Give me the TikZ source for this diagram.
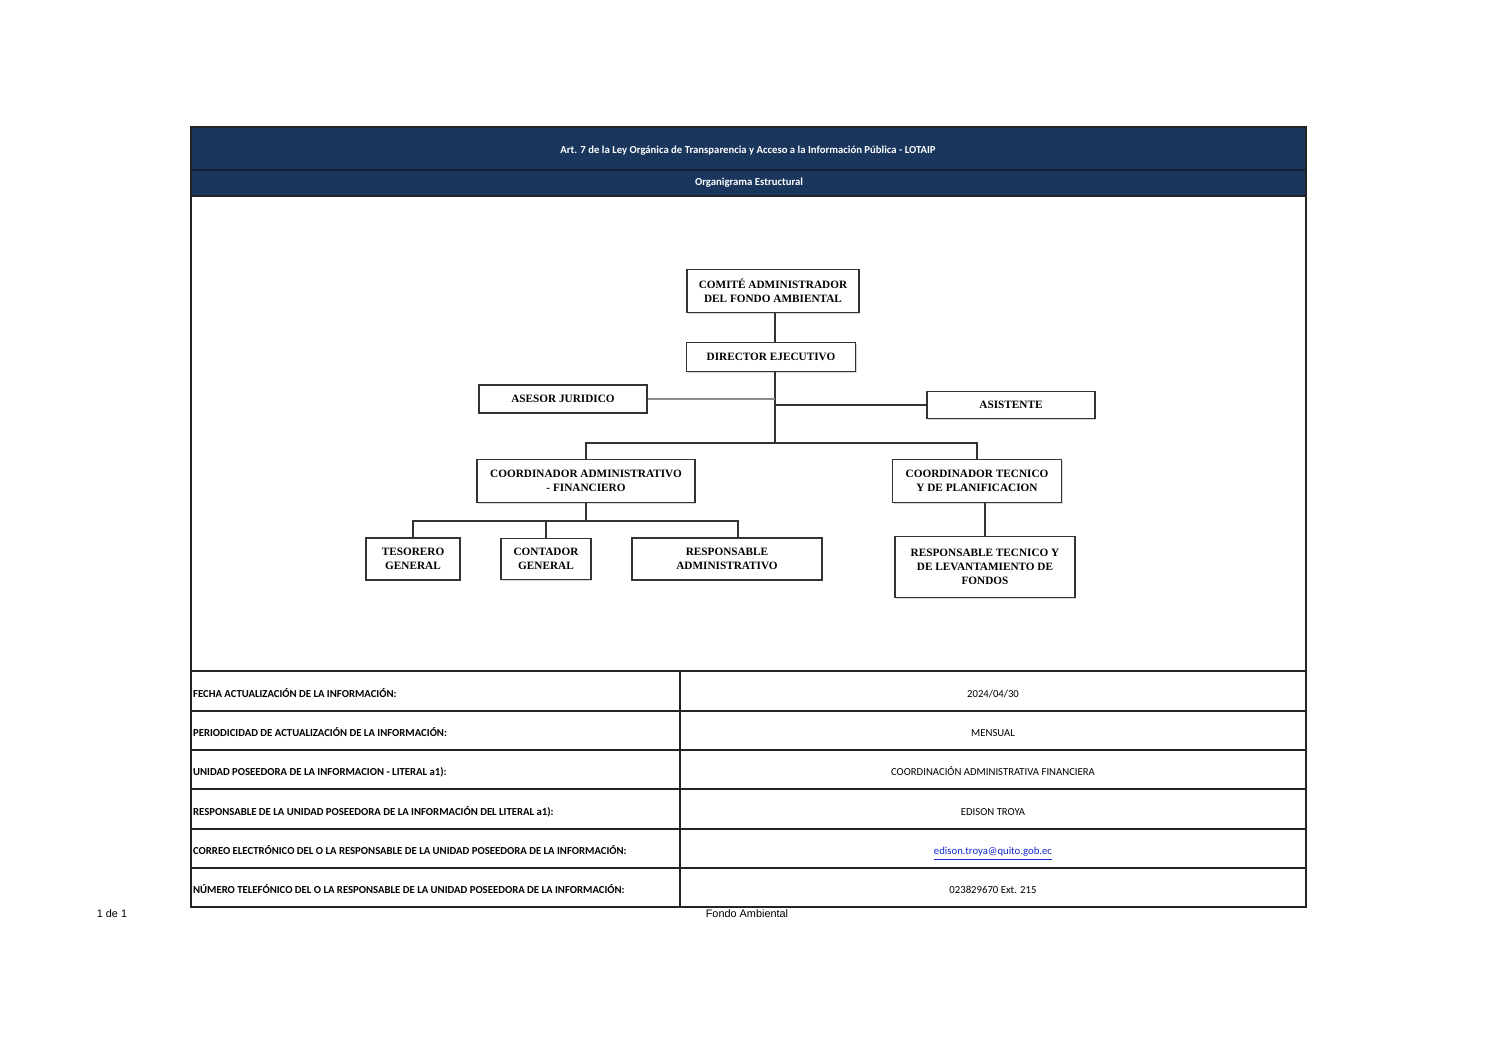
\documentclass[tikz,border=0pt]{standalone}
\usepackage{fontspec}
\setmainfont{Carlito}
\newfontfamily\orgfont{Liberation Serif}
\newfontfamily\pagefont{Liberation Sans}
\usetikzlibrary{positioning,shadows}
\definecolor{navy}{RGB}{26,54,92}
\definecolor{navyline}{RGB}{14,30,52}
\definecolor{grid}{RGB}{35,35,35}
\definecolor{linkblue}{RGB}{20,40,210}
\newcommand{\pxl}[1]{#1*0.02cm}

\begin{document}
\begin{tikzpicture}[x=0.02cm, y=-0.02cm,
  orgbox/.style={draw=black!80, line width=1pt, fill=white, inner sep=0pt, align=center,
    font=\orgfont\bfseries\fontsize{6.4}{8}\selectfont,
    drop shadow={shadow xshift=0.8pt, shadow yshift=-0.8pt, opacity=.3}},
  orgline/.style={draw=black!80, line width=0.9pt},
  headtxt/.style={text=white, font=\bfseries\fontsize{6.1}{7}\selectfont},
  rowkey/.style={anchor=west, inner sep=1pt, text height=1.5ex, text depth=0.4ex,
    font=\bfseries\fontsize{6.1}{7}\selectfont},
  rowval/.style={text height=1.5ex, text depth=0.4ex, font=\fontsize{6.1}{7}\selectfont},
  pagetxt/.style={font=\pagefont\fontsize{6.2}{7}\selectfont}]
  \useasboundingbox (0,0) rectangle (1497,1058);
  \fill[white] (0,0) rectangle (1497,1058);

  % header band
  \fill[navy] (191,127) rectangle (1306,196);
  \draw[navyline, line width=0.8pt] (191,170) -- (1306,170);
  \node[headtxt] (title) at (748,151) {Art. 7 de la Ley Orgánica de Transparencia y Acceso a la Información Pública - LOTAIP};
  \node[headtxt] (subtitle) at (749,183) {Organigrama Estructural};

  % org chart
  \node[orgbox, minimum width=\pxl{172}, minimum height=\pxl{43}] (comite) at (773,291) {COMITÉ ADMINISTRADOR\\DEL FONDO AMBIENTAL};
  \node[orgbox, minimum width=\pxl{169}, minimum height=\pxl{29}] (director) at (771,357) {DIRECTOR EJECUTIVO};
  \node[orgbox, minimum width=\pxl{168}, minimum height=\pxl{28}] (asesor) at (563,399) {ASESOR JURIDICO};
  \node[orgbox, minimum width=\pxl{168}, minimum height=\pxl{27}] (asistente) at (1011,405) {ASISTENTE};
  \node[orgbox, minimum width=\pxl{218}, minimum height=\pxl{43}] (coordadm) at (586,481) {COORDINADOR ADMINISTRATIVO\\- FINANCIERO};
  \node[orgbox, minimum width=\pxl{169}, minimum height=\pxl{43}] (coordtec) at (977,481) {COORDINADOR TECNICO\\Y DE PLANIFICACION};
  \node[orgbox, minimum width=\pxl{94}, minimum height=\pxl{42}] (tesorero) at (413,559) {TESORERO\\GENERAL};
  \node[orgbox, minimum width=\pxl{90}, minimum height=\pxl{41}] (contador) at (546,559) {CONTADOR\\GENERAL};
  \node[orgbox, minimum width=\pxl{190}, minimum height=\pxl{42}] (respadm) at (727,559) {RESPONSABLE\\ADMINISTRATIVO};
  \node[orgbox, minimum width=\pxl{180}, minimum height=\pxl{61}] (resptec) at (985,567) {RESPONSABLE TECNICO Y\\DE LEVANTAMIENTO DE\\FONDOS};

  \coordinate (bus) at (775,443);
  \coordinate (subbus) at (586,521);
  \coordinate (respdrop) at (738,521);
  \draw[orgline] (comite.south -| bus) -- (director.north -| bus);
  \draw[orgline] (director.south -| bus) -- (bus);
  \draw[black!45, line width=0.6pt] (asesor.east) -- (asesor.east -| bus);
  \draw[orgline] (asistente.west -| bus) -- (asistente.west);
  \draw[orgline] (coordadm.north) |- (bus) -| (coordtec.north);
  \draw[orgline] (coordadm.south) -- (subbus);
  \draw[orgline] (tesorero.north) |- (respdrop) -- (respdrop |- respadm.north);
  \draw[orgline] (contador.north) -- (contador.north |- subbus);
  \draw[orgline] (coordtec.south -| resptec.north) -- (resptec.north);

  % info table
  \draw[grid, line width=0.7pt] (191,127) rectangle (1306,907);
  \draw[grid, line width=0.7pt] (191,196) -- (1306,196);
  \foreach \yrow in {671,711,750,789,829,868}
    \draw[grid, line width=0.7pt] (191,\yrow) -- (1306,\yrow);
  \draw[grid, line width=0.7pt] (680,671) -- (680,907);

  \node[rowkey] (k1) at (191,693) {FECHA ACTUALIZACIÓN DE LA INFORMACIÓN:};
  \node[rowkey] (k2) at (191,732) {PERIODICIDAD DE ACTUALIZACIÓN DE LA INFORMACIÓN:};
  \node[rowkey] (k3) at (191,771) {UNIDAD POSEEDORA DE LA INFORMACION - LITERAL a1):};
  \node[rowkey] (k4) at (191,811) {RESPONSABLE DE LA UNIDAD POSEEDORA DE LA INFORMACIÓN DEL LITERAL a1):};
  \node[rowkey] (k5) at (191,850) {CORREO ELECTRÓNICO DEL O LA RESPONSABLE DE LA UNIDAD POSEEDORA DE LA INFORMACIÓN:};
  \node[rowkey] (k6) at (191,889) {NÚMERO TELEFÓNICO DEL O LA RESPONSABLE DE LA UNIDAD POSEEDORA DE LA INFORMACIÓN:};

  \node[rowval] (v1) at (993,693) {2024/04/30};
  \node[rowval] (v2) at (993,732) {MENSUAL};
  \node[rowval] (v3) at (993,771) {COORDINACIÓN ADMINISTRATIVA FINANCIERA};
  \node[rowval] (v4) at (993,811) {EDISON TROYA};
  \node[rowval, text=linkblue] (v5) at (993,850) {\underline{edison.troya@quito.gob.ec}};
  \node[rowval] (v6) at (993,889) {023829670 Ext. 215};

  % page footer
  \node[pagetxt] (pageno) at (112,914) {1 de 1};
  \node[pagetxt] (footer) at (747,914) {Fondo Ambiental};
\end{tikzpicture}
\end{document}
